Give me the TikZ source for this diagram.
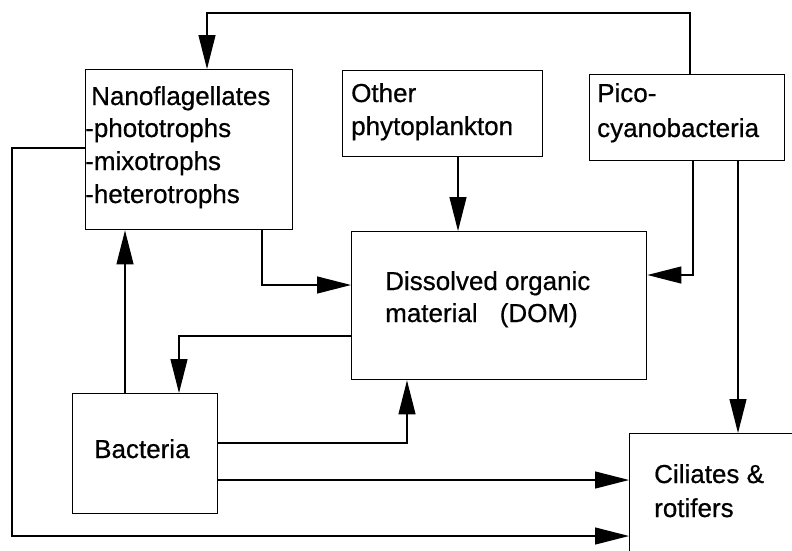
\documentclass[tikz,border=0pt]{standalone}
\usepackage{fontspec}
\setmainfont{Liberation Sans}
\newfontfamily\heavysans{Liberation Sans}[FakeBold=0.6]
\usetikzlibrary{arrows.meta}
\begin{document}
\begin{tikzpicture}[x=1pt,y=-1pt,
  box/.style={draw, line width=1.4pt, rectangle, inner sep=0pt, anchor=north west},
  lbl/.style={anchor=base west, inner sep=0pt, font=\heavysans\fontsize{26}{33}\selectfont},
  conn/.style={line width=1.2pt},
  arr/.style={conn, -{Triangle[length=34pt,width=17pt]}},
]
\useasboundingbox (0,0) rectangle (792,550);
\clip (0,0) rectangle (792,550);
% boxes
\node[box, minimum width=207pt, minimum height=160pt] (nano) at (85,69) {};
\node[box, minimum width=200pt, minimum height=86pt] (other) at (342,70) {};
\node[box, minimum width=195pt, minimum height=86pt] (pico) at (589,74) {};
\node[box, minimum width=295pt, minimum height=148pt] (dom) at (351,231) {};
\node[box, minimum width=145pt, minimum height=120pt] (bact) at (72,393) {};
\node[box, minimum width=200pt, minimum height=150pt] (cil) at (629,433) {};
% texts
\node[lbl] (t1) at (91,105) {Nanoflagellates};
\node[lbl] (t2) at (85,137) {-phototrophs};
\node[lbl] (t3) at (85,170) {-mixotrophs};
\node[lbl] (t4) at (85,203) {-heterotrophs};
\node[lbl] (t5) at (351,102) {Other};
\node[lbl] (t6) at (351,135) {phytoplankton};
\node[lbl] (t7) at (597,102) {Pico-};
\node[lbl] (t8) at (597,137) {cyanobacteria};
\node[lbl] (t9) at (385,290) {Dissolved organic};
\node[lbl] (t10) at (385,322) {material\hspace{0.85em}(DOM)};
\node[lbl] (t11) at (94,458) {Bacteria};
\node[lbl] (t12) at (654,483) {Ciliates \&};
\node[lbl] (t13) at (654,517) {rotifers};
% connectors
\draw[arr] (690,0 |- pico.north) -- (690,13) -| (207,0 |- nano.north);
\draw[arr] (nano.west |- 0,148) -- (12,148) |- (cil.west |- 0,536);
\draw[arr] (125,0 |- bact.north) -- (125,0 |- nano.south);
\draw[arr] (262,0 |- nano.south) |- (dom.west |- 0,285);
\draw[arr] (458,0 |- other.south) -- (458,0 |- dom.north);
\draw[arr] (693,0 |- pico.south) |- (dom.east |- 0,275);
\draw[arr] (738,0 |- pico.south) -- (738,0 |- cil.north);
\draw[arr] (dom.west |- 0,336) -| (179,0 |- bact.north);
\draw[arr] (bact.east |- 0,443) -| (407,0 |- dom.south);
\draw[arr] (bact.east |- 0,480) -- (cil.west |- 0,480);
\end{tikzpicture}
\end{document}
